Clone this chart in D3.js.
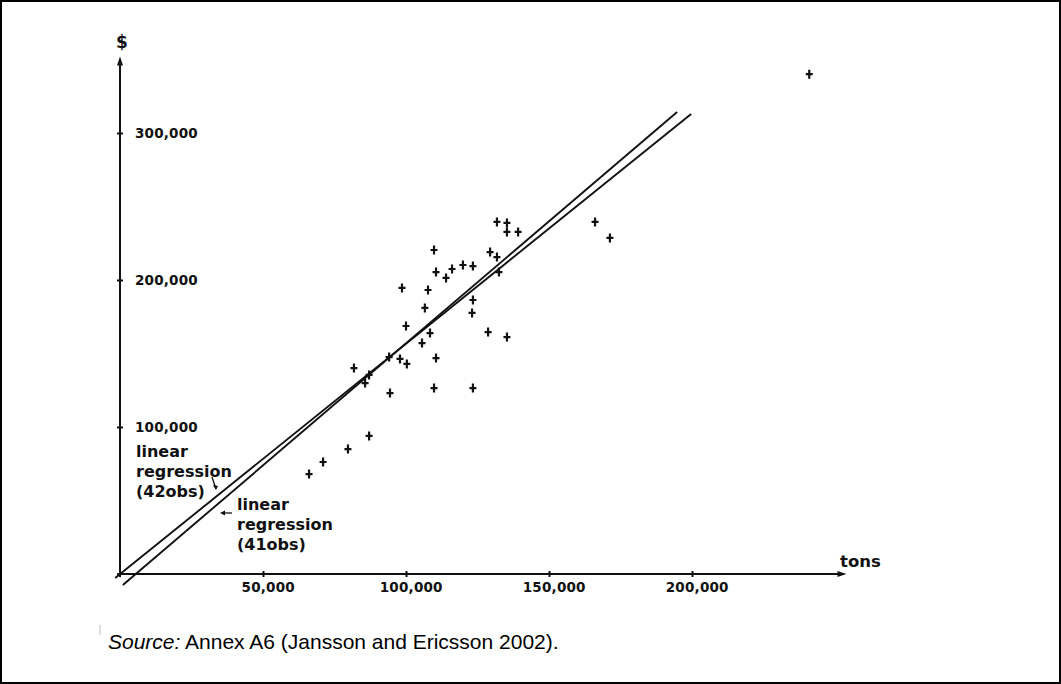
<!DOCTYPE html>
<html>
<head>
<meta charset="utf-8">
<script src="https://cdn.jsdelivr.net/npm/d3@7"></script>
<style>
  html, body { margin: 0; padding: 0; background: #fff; }
  svg { display: block; }
  .tick text { font-family: "DejaVu Sans", sans-serif; font-weight: bold; font-size: 13.5px; fill: #111; letter-spacing: 0.2px; }
  .lbl { font-family: "DejaVu Sans", sans-serif; font-weight: bold; fill: #111; }
  .src { font-family: "Liberation Sans", Arial, sans-serif; font-size: 21px; fill: #000; }
</style>
</head>
<body>
<svg id="chart" width="1061" height="684"></svg>
<script>
const TONS = [
  241000, 166100, 171300, 131800, 135300, 135300, 139200, 129400, 131800, 132500,
  109800, 110500, 116100, 114000, 119900, 123400, 98600, 107700, 106600, 123400,
  123100, 100000, 108400, 105600, 128700, 135300, 94100, 97900, 100300, 110500,
  81800, 87100, 85700, 94400, 109800, 123400, 87100, 79700, 71000, 66100
];
const DOLLARS = [
  340000, 239500, 228600, 239500, 238800, 232700, 232700, 219000, 215600, 205400,
  220400, 205400, 207500, 201400, 210200, 209500, 194600, 193200, 181000, 186400,
  177600, 168700, 163900, 157100, 164600, 161200, 147600, 146300, 142900, 146900,
  140100, 135400, 129900, 123100, 126500, 126500, 93900, 85000, 76200, 68000
];

// regression lines, end points in data units
const REG42_X = [-1700, 199700];
const REG42_Y = [-2700, 312900];
const REG41_X = [1000, 194800];
const REG41_Y = [-7500, 314300];

const X_TICKS = [50000, 100000, 150000, 200000];
const Y_TICKS = [100000, 200000, 300000];
const X_AXIS_END = 254000;
const Y_AXIS_END = 352000;

const svg = d3.select('#chart');

// frame
svg.append('rect')
  .attr('x', 1).attr('y', 1).attr('width', 1059).attr('height', 682)
  .attr('fill', 'none').attr('stroke', '#000').attr('stroke-width', 2);

const x = d3.scaleLinear().domain([0, 200000]).range([120, 692]);
const y = d3.scaleLinear().domain([0, 300000]).range([574, 133]);

const ink = '#111';

// axis lines
svg.append('line')
  .attr('x1', x(-1000)).attr('x2', x(X_AXIS_END) - 6)
  .attr('y1', y(0)).attr('y2', y(0))
  .attr('stroke', ink).attr('stroke-width', 2);
svg.append('line')
  .attr('x1', x(0)).attr('x2', x(0))
  .attr('y1', y(-2000)).attr('y2', y(Y_AXIS_END) + 6)
  .attr('stroke', ink).attr('stroke-width', 2);

// arrow heads
const xe = x(X_AXIS_END), ye = y(Y_AXIS_END);
svg.append('path')
  .attr('d', `M${xe},${y(0)} L${xe - 9},${y(0) - 3} L${xe - 9},${y(0) + 3} Z`)
  .attr('fill', ink);
svg.append('path')
  .attr('d', `M${x(0)},${ye} L${x(0) - 3},${ye + 9} L${x(0) + 3},${ye + 9} Z`)
  .attr('fill', ink);

// ticks
const fmt = d3.format(',');
const gx = svg.append('g')
  .attr('transform', `translate(0,${y(0)})`)
  .call(d3.axisBottom(x).tickValues(X_TICKS).tickFormat(fmt).tickSize(3).tickPadding(5));
gx.select('.domain').remove();
gx.selectAll('.tick line').attr('y1', -3).attr('y2', 3).attr('stroke', ink).attr('stroke-width', 2);
gx.selectAll('.tick text').attr('dx', '0.35em');

const gy = svg.append('g')
  .attr('transform', `translate(${x(0)},0)`)
  .call(d3.axisRight(y).tickValues(Y_TICKS).tickFormat(fmt).tickSize(3).tickPadding(12));
gy.select('.domain').remove();
gy.selectAll('.tick line').attr('x1', -3).attr('x2', 3).attr('stroke', ink).attr('stroke-width', 2);

// axis titles
svg.append('text').attr('class', 'lbl')
  .attr('x', x(0) + 2).attr('y', 48).attr('text-anchor', 'middle')
  .style('font-size', '17px').text('$');
svg.append('text').attr('class', 'lbl')
  .attr('x', 840).attr('y', 567)
  .style('font-size', '16.5px').text('tons');

// regression lines
const line = d3.line().x(d => x(d[0])).y(d => y(d[1]));
svg.append('path')
  .datum(d3.zip(REG42_X, REG42_Y))
  .attr('d', line).attr('fill', 'none').attr('stroke', ink).attr('stroke-width', 1.9);
svg.append('path')
  .datum(d3.zip(REG41_X, REG41_Y))
  .attr('d', line).attr('fill', 'none').attr('stroke', ink).attr('stroke-width', 1.9);

// observations as + marks
svg.append('g')
  .selectAll('path')
  .data(d3.zip(TONS, DOLLARS))
  .join('path')
  .attr('transform', d => `translate(${x(d[0])},${y(d[1])})`)
  .attr('d', 'M-3.5,0H3.5M0,-4.5V4.5')
  .attr('stroke', ink).attr('stroke-width', 2.2);

// regression annotations
function block(x0, y0, lines) {
  const t = svg.append('text').attr('class', 'lbl').style('font-size', '16px');
  lines.forEach((s, i) => {
    t.append('tspan').attr('x', x0).attr('y', y0 + i * 20).text(s);
  });
}
block(136, 457, ['linear', 'regression', '(42obs)']);
block(237, 510, ['linear', 'regression', '(41obs)']);

// little pointers
svg.append('path')
  .attr('d', 'M212,477 L216,489')
  .attr('stroke', ink).attr('stroke-width', 1.3).attr('fill', 'none');
svg.append('path')
  .attr('d', 'M216,490 L213,485 L218,486 Z').attr('fill', ink);
svg.append('path')
  .attr('d', 'M223,513 L232,513')
  .attr('stroke', ink).attr('stroke-width', 1.3).attr('fill', 'none');
svg.append('path')
  .attr('d', 'M220,513 L225,510.5 L225,515.5 Z').attr('fill', ink);

// faint scan marks
svg.append('line')
  .attr('x1', 100).attr('x2', 100).attr('y1', 625).attr('y2', 635)
  .attr('stroke', '#bbb').attr('stroke-width', 1);

// source line
const src = svg.append('text').attr('class', 'src').attr('x', 108).attr('y', 649);
src.append('tspan').style('font-style', 'italic').text('Source:');
src.append('tspan').text(' Annex A6 (Jansson and Ericsson 2002).');
</script>
</body>
</html>
